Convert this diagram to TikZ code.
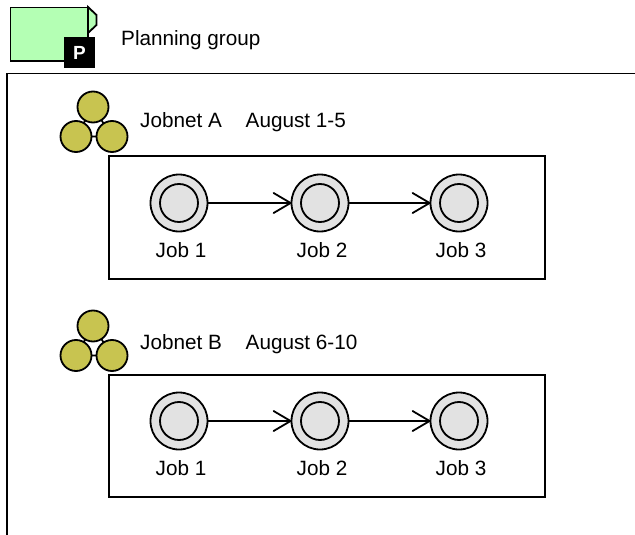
\documentclass[tikz,border=0pt]{standalone}
\usepackage{fontspec}
\setmainfont{Liberation Sans}
\usetikzlibrary{arrows.meta}
\definecolor{grpgreen}{HTML}{B4FFB4}
\definecolor{netolive}{HTML}{C8C450}
\definecolor{jobgray}{HTML}{E2E2E2}
\tikzset{
  x=1pt,y=-1pt,
  line/.style={draw=black,line width=1.8pt},
  outerjob/.style={circle,draw=black,line width=1.8pt,fill=jobgray,minimum size=57pt,inner sep=0pt,outer sep=0pt},
  innerjob/.style={circle,draw=black,line width=1.8pt,fill=jobgray,minimum size=38pt,inner sep=0pt},
  netdot/.style={circle,draw=black,line width=1.8pt,fill=netolive,minimum size=31pt,inner sep=0pt,outer sep=0pt},
  lbl/.style={font=\fontsize{20.7}{24}\selectfont,inner sep=0pt,text=black},
  boxr/.style={draw=black,line width=1.8pt,fill=white},
  conn/.style={draw=black,line width=1.8pt,-{Straight Barb[length=17pt,width=20pt,line width=1.8pt,round]}},
}
\newcommand{\jobnode}[4]{%
  \node[outerjob] (#1) at (#2,#3) {};
  \node[innerjob] (#1i) at (#2,#3) {};
  \node[lbl,anchor=base] (#1t) at (#2+2,#3+54.5) {#4};
}
\newcommand{\netgroup}[2]{%
  \draw[line] (93,#2) -- (76,#2+29.5) -- (112,#2+29.5) -- cycle;
  \node[netdot] (#1a) at (93,#2) {};
  \node[netdot] (#1b) at (76,#2+29.5) {};
  \node[netdot] (#1c) at (112,#2+29.5) {};
}
\begin{document}
\begin{tikzpicture}
\useasboundingbox (0,0) rectangle (635,535);
\fill[white] (0,0) rectangle (635,535);
% group icon
\draw[line,fill=grpgreen] (88,7) -- (96.5,15) -- (96.5,25) -- (88,33) -- cycle;
\draw[line,fill=grpgreen] (10.5,7.5) rectangle (88,61);
\node[fill=black,minimum size=31pt,inner sep=0pt,text=white,font=\bfseries\fontsize{19}{22}\selectfont] (pbadge) at (79.5,52.5) {P};
\node[lbl,anchor=base west] (grouplabel) at (121,45.5) {Planning group};
% frame
\draw[line] (7,535) -- (7,73.5) -- (635,73.5);
% jobnet A
\netgroup{na}{107}
\node[lbl,anchor=base west] (natitle) at (140,127.5) {Jobnet A};
\node[lbl,anchor=base west] (nadate) at (245.5,127.5) {August 1-5};
\draw[boxr] (109,156) rectangle (545,279);
\jobnode{a1}{179}{203}{Job 1}
\jobnode{a2}{320}{203}{Job 2}
\jobnode{a3}{459}{203}{Job 3}
\draw[conn] (a1) -- (a2);
\draw[conn] (a2) -- (a3);
% jobnet B
\netgroup{nb}{326}
\node[lbl,anchor=base west] (nbtitle) at (140,349) {Jobnet B};
\node[lbl,anchor=base west] (nbdate) at (245.5,349) {August 6-10};
\draw[boxr] (109,375) rectangle (545,497);
\jobnode{b1}{179}{421}{Job 1}
\jobnode{b2}{320}{421}{Job 2}
\jobnode{b3}{459}{421}{Job 3}
\draw[conn] (b1) -- (b2);
\draw[conn] (b2) -- (b3);
\end{tikzpicture}
\end{document}
